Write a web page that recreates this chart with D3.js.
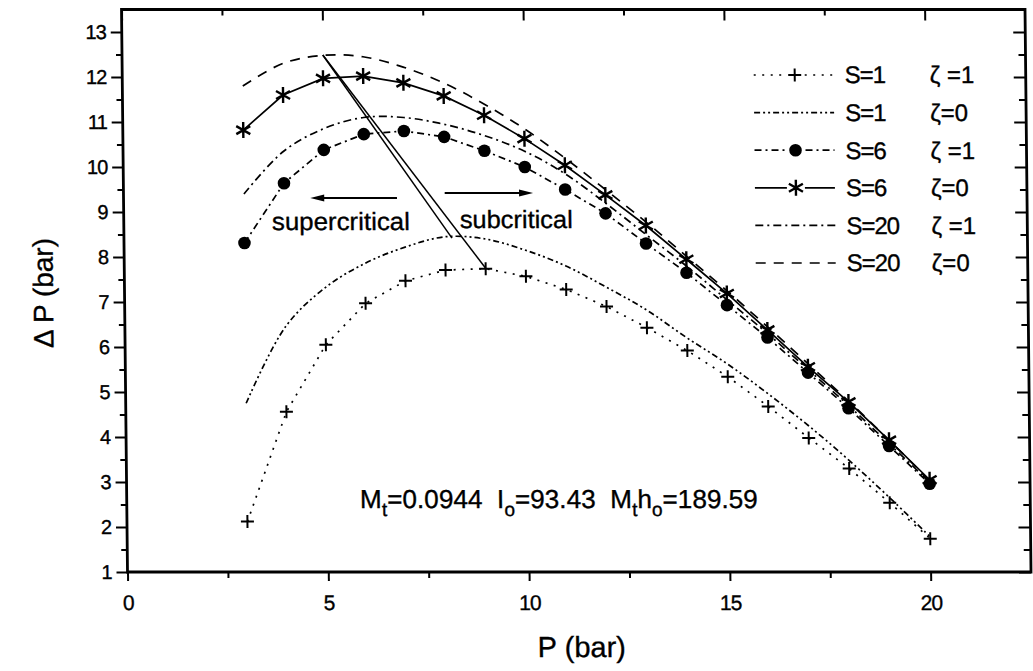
<!DOCTYPE html>
<html>
<head>
<meta charset="utf-8">
<script src="https://cdn.jsdelivr.net/npm/d3@7"></script>
<style>
body { margin: 0; background: #fff; }
text { font-family: "Liberation Sans", Arial, sans-serif; fill: #000; stroke: #000; stroke-width: 0.35px; }
</style>
</head>
<body>
<svg id="chart" width="1033" height="671"></svg>
<script>
// data
var pressure = [3, 4, 5, 6, 7, 8, 9, 10, 11, 12, 13, 14, 15, 16, 17, 18, 19, 20];
var s1z1 = [2.12, 4.56, 6.05, 6.97, 7.47, 7.71, 7.74, 7.57, 7.28, 6.9, 6.43, 5.92, 5.34, 4.68, 3.98, 3.3, 2.54, 1.74];
var s1z0 = [4.75, 6.45, 7.32, 7.86, 8.22, 8.45, 8.4, 8.15, 7.8, 7.33, 6.82, 6.2, 5.62, 4.96, 4.25, 3.48, 2.65, 1.78];
var s6z1 = [8.31, 9.64, 10.38, 10.73, 10.8, 10.67, 10.36, 10.0, 9.5, 8.97, 8.3, 7.65, 6.93, 6.21, 5.43, 4.64, 3.8, 2.96];
var s6z0 = [10.82, 11.6, 11.97, 12.02, 11.87, 11.58, 11.15, 10.63, 10.04, 9.38, 8.7, 7.95, 7.19, 6.38, 5.56, 4.78, 3.93, 3.05];
var s20z1 = [9.4, 10.35, 10.85, 11.1, 11.1, 10.95, 10.7, 10.35, 9.85, 9.2, 8.5, 7.8, 7.05, 6.3, 5.5, 4.7, 3.85, 3.0];
var s20z0 = [11.8, 12.3, 12.48, 12.45, 12.22, 11.87, 11.4, 10.85, 10.2, 9.5, 8.78, 8.02, 7.25, 6.45, 5.63, 4.8, 3.93, 3.03];

var sLabels = ["S=1", "S=1", "S=6", "S=6", "S=20", "S=20"];
var zetaLabels = ["\u03b6 =1", "\u03b6=0", "\u03b6 =1", "\u03b6=0", "\u03b6 =1", "\u03b6=0"];

var xTicks = [0, 5, 10, 15, 20];
var xMinor = [2.5, 7.5, 12.5, 17.5];
var yTicks = [1, 2, 3, 4, 5, 6, 7, 8, 9, 10, 11, 12, 13];
var yMinor = [1.5, 2.5, 3.5, 4.5, 5.5, 6.5, 7.5, 8.5, 9.5, 10.5, 11.5, 12.5];

// critical locus lines (P, dP)
var critA = [[5, 12.49], [8.17, 8.42]];
var critB = [[5, 12.49], [9, 7.75]];

var svg = d3.select("#chart");
var plotL = 127.5, plotR = 1031, plotT = 9.5, plotB = 572;

var x = d3.scaleLinear().domain([0, 22.5]).range([plotL, plotR]);
var y = d3.scaleLinear().domain([1, 13.5]).range([plotB, plotT]);

// the scan is slightly sheared
var g = svg.append("g")
    .attr("transform", "translate(0," + plotB + ") skewX(0.61) translate(0," + (-plotB) + ")");

// frame
g.append("rect")
    .attr("x", plotL).attr("y", plotT)
    .attr("width", plotR - plotL).attr("height", plotB - plotT)
    .attr("fill", "none").attr("stroke", "#000").attr("stroke-width", 2.8);

function addAxis(axis, tx, ty, size) {
    var a = g.append("g")
        .attr("transform", "translate(" + tx + "," + ty + ")")
        .call(axis);
    a.select(".domain").remove();
    a.selectAll("line").attr("stroke-width", 2);
    a.selectAll("text").style("font-size", size + "px").style("letter-spacing", "-1px");
    return a;
}

addAxis(d3.axisBottom(x).tickValues(xTicks).tickSize(9).tickPadding(14), 0, plotB, 21);
addAxis(d3.axisBottom(x).tickValues(xMinor).tickSize(6).tickFormat(""), 0, plotB, 21);
addAxis(d3.axisTop(x).tickValues(xTicks).tickSize(-11).tickFormat(""), 0, plotT, 21);
addAxis(d3.axisTop(x).tickValues(xMinor).tickSize(-6).tickFormat(""), 0, plotT, 21);

addAxis(d3.axisLeft(y).tickValues(yTicks).tickSize(11).tickPadding(5), plotL, 0, 20);
addAxis(d3.axisLeft(y).tickValues(yMinor).tickSize(6).tickFormat(""), plotL, 0, 20);
addAxis(d3.axisRight(y).tickValues(yTicks).tickSize(-12).tickFormat(""), plotR, 0, 20);
addAxis(d3.axisRight(y).tickValues(yMinor).tickSize(-7).tickFormat(""), plotR, 0, 20);

// axis titles
g.append("text")
    .attr("x", 581).attr("y", 657)
    .attr("text-anchor", "middle")
    .style("font-size", "29px")
    .text("P (bar)");

g.append("text")
    .attr("transform", "translate(56,293) rotate(-90)")
    .attr("text-anchor", "middle")
    .style("font-size", "28px")
    .text("\u0394 P (bar)");

// series
var smooth = d3.curveCatmullRom.alpha(0.5);
var series = [
    { values: s1z1, dash: "2,6.5", marker: "plus", curve: d3.curveLinear },
    { values: s1z0, dash: "6,3,2,3,2,3", marker: null, curve: smooth },
    { values: s6z1, dash: "7,4,2,4", marker: "circle", curve: d3.curveLinear },
    { values: s6z0, dash: null, marker: "star", curve: d3.curveLinear },
    { values: s20z1, dash: "8,4,2,4", marker: null, curve: smooth },
    { values: s20z0, dash: "10,8", marker: null, curve: smooth }
];

var plusPath = "M-6.5,0H6.5M0,-6.5V6.5";
var starPath = "M0,-8V8M-7,-4L7,4M-7,4L7,-4";

function drawMarker(sel, type) {
    if (type === "circle") {
        sel.append("circle").attr("r", 6.3).attr("fill", "#000");
    } else if (type === "plus") {
        sel.append("path").attr("d", plusPath).attr("stroke", "#000").attr("stroke-width", 2).attr("fill", "none");
    } else if (type === "star") {
        sel.append("path").attr("d", starPath).attr("stroke", "#000").attr("stroke-width", 2.4).attr("fill", "none");
    }
}

series.forEach(function (s) {
    var pts = pressure.map(function (p, i) { return [p, s.values[i]]; });
    var line = d3.line()
        .x(function (d) { return x(d[0]); })
        .y(function (d) { return y(d[1]); })
        .curve(s.curve);
    g.append("path")
        .attr("d", line(pts))
        .attr("fill", "none")
        .attr("stroke", "#000")
        .attr("stroke-width", 1.7)
        .attr("stroke-dasharray", s.dash);
});

series.forEach(function (s) {
    if (!s.marker) return;
    pressure.forEach(function (p, i) {
        var m = g.append("g").attr("transform", "translate(" + x(p) + "," + y(s.values[i]) + ")");
        drawMarker(m, s.marker);
    });
});

// critical locus
var critLine = d3.line().x(function (d) { return x(d[0]); }).y(function (d) { return y(d[1]); });
[critA, critB].forEach(function (c) {
    g.append("path").attr("d", critLine(c))
        .attr("fill", "none").attr("stroke", "#000").attr("stroke-width", 1.5);
});

// arrows
function arrow(x1, x2, yy) {
    var px1 = x(x1), px2 = x(x2), py = y(yy);
    var dir = px2 > px1 ? 1 : -1;
    g.append("line").attr("x1", px1).attr("x2", px2 - dir * 8).attr("y1", py).attr("y2", py)
        .attr("stroke", "#000").attr("stroke-width", 2);
    g.append("path")
        .attr("d", "M" + px2 + "," + py + "L" + (px2 - dir * 14) + "," + (py - 3.5) + "L" + (px2 - dir * 14) + "," + (py + 3.5) + "Z")
        .attr("fill", "#000");
}
arrow(6.81, 4.65, 9.31);
arrow(8.0, 10.2, 9.42);

function fitText(node, width) {
    var w = node.getBBox().width;
    var x0 = +node.getAttribute("x");
    var k = width / w;
    d3.select(node).attr("transform", "translate(" + x0 + ",0) scale(" + k + ",1) translate(" + (-x0) + ",0)");
}

var t1 = g.append("text").attr("x", x(3.69)).attr("y", y(8.6)).style("font-size", "25px").text("supercritical");
fitText(t1.node(), 138);
var t2 = g.append("text").attr("x", x(8.37)).attr("y", y(8.64)).style("font-size", "25px").text("subcritical");
fitText(t2.node(), 113);

// parameters annotation
var ann = g.append("text").attr("x", x(5.81)).attr("y", y(2.42)).style("font-size", "26px").style("white-space", "pre");
var parts = [
    ["M", 0], ["t", 1], ["=0.0944  I", 0], ["o", 1], ["=93.43  M", 0], ["t", 1], ["h", 0], ["o", 1], ["=189.59", 0]
];
var prevSub = 0;
parts.forEach(function (p) {
    var shift = (p[1] - prevSub) * 8;
    ann.append("tspan")
        .attr("dy", shift)
        .style("font-size", p[1] ? "19px" : "26px")
        .text(p[0]);
    prevSub = p[1];
});
fitText(ann.node(), 398);

// legend
var legendY0 = 75, legendDy = 37.6;
var legendMarkers = ["plus", null, "circle", "star", null, null];
series.forEach(function (s, i) {
    var ly = legendY0 + i * legendDy;
    g.append("line")
        .attr("x1", 759).attr("x2", 839).attr("y1", ly).attr("y2", ly)
        .attr("stroke", "#000").attr("stroke-width", 1.7)
        .attr("stroke-dasharray", s.dash);
    if (legendMarkers[i]) {
        var m = g.append("g").attr("transform", "translate(800," + ly + ")");
        m.append("rect").attr("x", -9).attr("y", -9).attr("width", 18).attr("height", 18).attr("fill", "#fff");
        drawMarker(m, legendMarkers[i]);
    }
    g.append("text").attr("x", 850).attr("y", ly + 8.5)
        .style("font-size", "24px").style("letter-spacing", "-1px")
        .text(sLabels[i]);
    g.append("text").attr("x", 935).attr("y", ly + 8.5)
        .style("font-size", "24px")
        .style("white-space", "pre")
        .text(zetaLabels[i]);
});
</script>
</body>
</html>
